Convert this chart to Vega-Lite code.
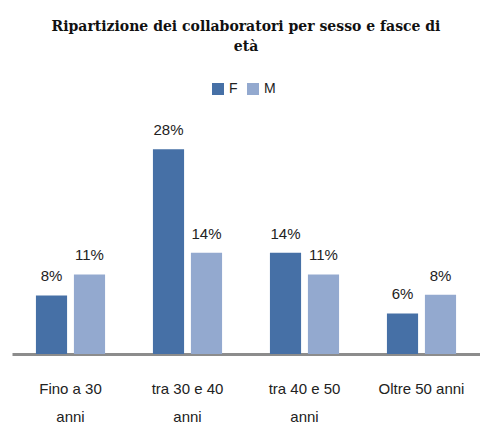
{
  "$schema": "https://vega.github.io/schema/vega-lite/v6.json",
  "width": 468,
  "height": 217,
  "autosize": "none",
  "padding": {"left": 12, "top": 137, "right": 0, "bottom": 68},
  "title": {
    "text": ["Ripartizione dei collaboratori per sesso e fasce di", "età"],
    "anchor": "middle",
    "frame": "group",
    "font": "DejaVu Serif",
    "fontSize": 14,
    "fontWeight": "bold",
    "lineHeight": 20,
    "color": "#111111",
    "baseline": "bottom",
    "offset": 14
  },
  "data": {
    "values": [
      {"fascia": "Fino a 30 anni", "sesso": "F", "valore": 0.081},
      {"fascia": "Fino a 30 anni", "sesso": "M", "valore": 0.11},
      {"fascia": "tra 30 e 40 anni", "sesso": "F", "valore": 0.283},
      {"fascia": "tra 30 e 40 anni", "sesso": "M", "valore": 0.14},
      {"fascia": "tra 40 e 50 anni", "sesso": "F", "valore": 0.14},
      {"fascia": "tra 40 e 50 anni", "sesso": "M", "valore": 0.11},
      {"fascia": "Oltre 50 anni", "sesso": "F", "valore": 0.056},
      {"fascia": "Oltre 50 anni", "sesso": "M", "valore": 0.082}
    ]
  },
  "encoding": {
    "x": {
      "field": "fascia",
      "type": "nominal",
      "sort": null,
      "scale": {"paddingInner": 0, "paddingOuter": 0},
      "axis": {
        "title": null,
        "labelAngle": 0,
        "ticks": false,
        "domainColor": "#8c8c8c",
        "domainWidth": 3,
        "labelFont": "Liberation Sans",
        "labelFontSize": 15,
        "labelColor": "#222222",
        "labelPadding": 27,
        "labelLineHeight": 28,
        "labelExpr": "datum.label == 'Fino a 30 anni' ? ['Fino a 30', 'anni'] : datum.label == 'tra 30 e 40 anni' ? ['tra 30 e 40', 'anni'] : datum.label == 'tra 40 e 50 anni' ? ['tra 40 e 50', 'anni'] : datum.label"
      }
    },
    "xOffset": {
      "field": "sesso",
      "type": "nominal",
      "scale": {"paddingInner": 0.18, "paddingOuter": 0.63}
    },
    "y": {
      "field": "valore",
      "type": "quantitative",
      "scale": {"domain": [0, 0.3]},
      "axis": null
    }
  },
  "layer": [
    {
      "mark": {"type": "bar"},
      "encoding": {
        "color": {
          "field": "sesso",
          "type": "nominal",
          "scale": {"domain": ["F", "M"], "range": ["#4670A6", "#93A9CF"]},
          "legend": {
            "orient": "none",
            "legendX": 199,
            "legendY": -55,
            "direction": "horizontal",
            "title": null,
            "symbolType": "square",
            "symbolSize": 144,
            "symbolStrokeWidth": 0,
            "labelFont": "Liberation Sans",
            "labelFontSize": 14,
            "labelColor": "#222222",
            "columnPadding": 8
          }
        }
      }
    },
    {
      "mark": {
        "type": "text",
        "baseline": "alphabetic",
        "dy": -14,
        "font": "Liberation Sans",
        "fontSize": 15,
        "color": "#222222"
      },
      "encoding": {
        "text": {"field": "valore", "type": "quantitative", "format": ".0%"}
      }
    }
  ],
  "config": {"view": {"stroke": null}, "background": "white"}
}
